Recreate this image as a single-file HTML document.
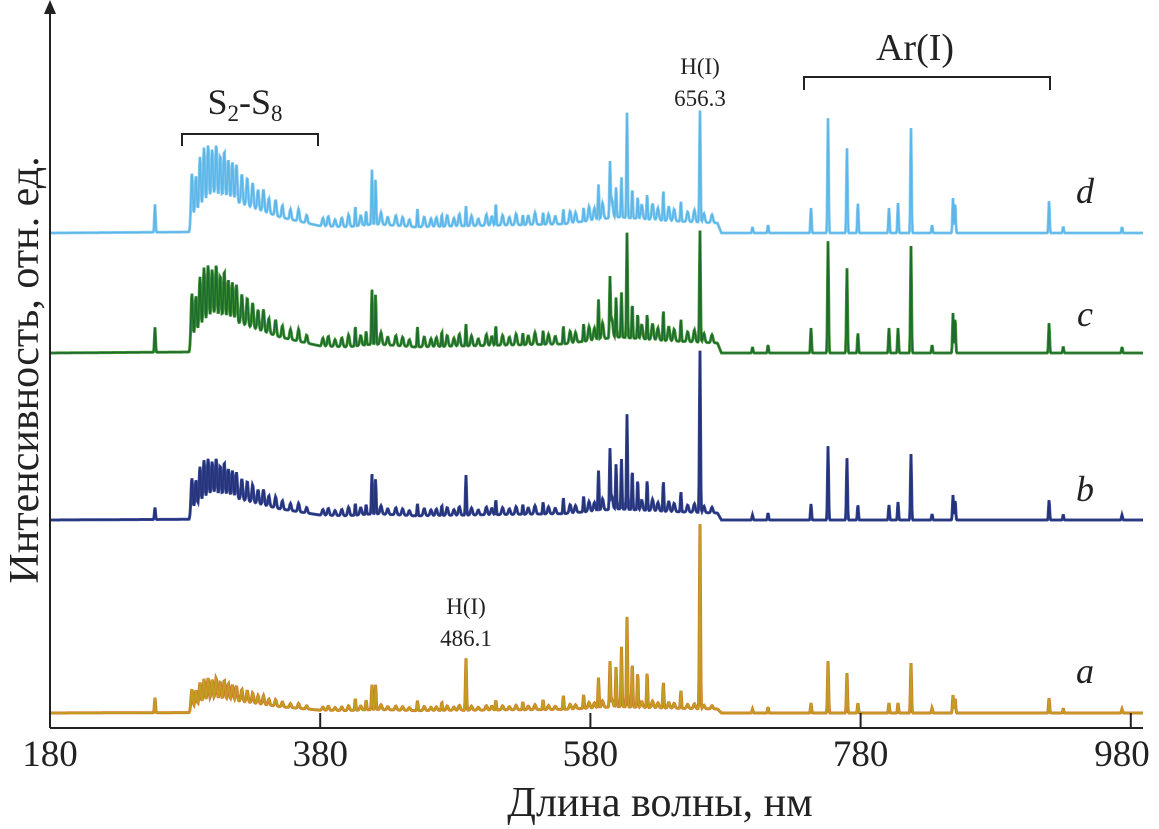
<!DOCTYPE html>
<html><head><meta charset="utf-8"><style>
html,body{margin:0;padding:0;background:#fff}
svg{display:block}
text{font-family:"Liberation Serif",serif;fill:#222}
</style></head><body>
<svg width="1159" height="829" viewBox="0 0 1159 829">
<g id="series"></g>
<g stroke="#222" stroke-width="2" fill="none">
<line x1="50" y1="728" x2="1143" y2="728"/>
<line x1="50" y1="728" x2="50" y2="10"/>
<polygon points="44,14 50,0 56,14" fill="#222" stroke="none"/>
</g>
<g id="ticks"></g>
<text x="660" y="816" font-size="42" text-anchor="middle">Длина волны, нм</text>
<text transform="translate(38,370) rotate(-90)" font-size="42" text-anchor="middle">Интенсивность, отн. ед.</text>
<g stroke="#222" stroke-width="2" fill="none">
<path d="M182,146 V134 H318 V146"/>
<path d="M804,90 V77 H1050 V90"/>
</g>
<text x="245" y="114" font-size="36" text-anchor="middle">S<tspan font-size="23" dy="7">2</tspan><tspan dy="-7">-S</tspan><tspan font-size="23" dy="7">8</tspan></text>
<text x="915" y="60" font-size="38" text-anchor="middle">Ar(I)</text>
<text x="700" y="74" font-size="23" text-anchor="middle">H(I)</text>
<text x="700" y="106" font-size="23" text-anchor="middle">656.3</text>
<text x="466" y="614" font-size="23" text-anchor="middle">H(I)</text>
<text x="466" y="646" font-size="23" text-anchor="middle">486.1</text>
<text x="1085" y="203" font-size="36" font-style="italic" text-anchor="middle">d</text>
<text x="1085" y="326" font-size="36" font-style="italic" text-anchor="middle">c</text>
<text x="1085" y="501" font-size="36" font-style="italic" text-anchor="middle">b</text>
<text x="1085" y="683" font-size="36" font-style="italic" text-anchor="middle">a</text>
</svg>
<script>
const tickValues=[180,380,580,780,980];
const seriesNames=['d','c','b','a'];
const seriesBaselines=[233,353,520,713];
const seriesScale=[1.0,1.0,0.7,0.4];
// continuum envelope (nm, level)
const contNm=[180,283,286,300,320,350,380,400,420,450,560,600,640,674,677,990];
const contLv=[0,1,14,34,30,16,7,6,9,6,9,16,12,10,0,0];
// S2 band lines
const bandNm=[285,288,291,294,297,300,303,306,309,312,315,318,322,326,330,334,338,342,347,352,358,364,370];
const bandLv=[50,40,55,60,58,50,55,45,50,42,40,38,30,28,25,20,22,15,16,12,10,12,8];
// atomic lines: wavelengths and heights per series (d,c,b,a)
const lineNm=[257.7,406,414,418.3,421,452,470,487.9,510,530,545,560,575,586,594.5,599,603,607.1,611,615,622,634,647,661.1,700,711.5,743.3,755.9,769.9,778,801,807.7,817.3,832.9,848.4,850,919.5,930,973.5];
const lineD=[28,20,14,55,45,18,12,20,22,10,12,15,14,35,55,30,40,105,30,22,25,30,20,112,6,8,25,115,85,30,25,30,105,8,35,30,32,6,6];
const lineC=[25,20,14,55,50,20,15,22,20,12,14,18,18,40,60,40,45,105,35,25,25,30,22,112,6,8,25,112,85,20,25,25,107,8,40,35,30,6,6];
const lineB=[12,12,10,40,35,12,10,40,15,10,12,16,16,40,60,45,50,95,40,30,30,30,20,162,5,7,16,74,62,15,15,18,66,6,25,20,20,5,5];
const lineA=[15,12,10,25,25,10,8,52,10,8,10,14,14,30,45,40,60,90,45,35,35,26,18,185,4,6,10,52,40,10,10,10,50,5,18,15,15,4,4];
// small ripple lines (shared, relative heights)
const rippleNm=[382,386,391,396,401,410,425,430,436,441,446,457,462,466,474,479,483,492,497,503,507,515,520,525,534,539,549,554,565,569,579,583,589,596,618,626,630,638,642,652,657,664,670];
const rippleLv=[8,10,7,9,12,10,12,8,10,9,7,10,8,9,11,8,12,10,7,11,9,10,8,11,9,12,10,8,12,10,14,12,16,18,14,16,12,14,12,10,12,9,8];
const lineSets=[lineD,lineC,lineB,lineA];
const colors=['#5db6e8','#1d6b2e','#253479','#c0a021'];
const edge=['#8fd0f2','#4a9a3a','#3c4a9a','#d0782a'];

const X=nm=>50+(nm-180)*1.351;
const gsum=(nm,arr,lv,s,w)=>{let v=0;for(let i=0;i<arr.length;i++){const d=(nm-arr[i])/w;if(Math.abs(d)<4)v+=lv[i]*s*Math.exp(-d*d);}return v;};
function cont(nm){for(let i=0;i<contNm.length-1;i++){if(nm>=contNm[i]&&nm<=contNm[i+1]){const t=(nm-contNm[i])/(contNm[i+1]-contNm[i]);return contLv[i]+t*(contLv[i+1]-contLv[i]);}}return 0;}
const NS='http://www.w3.org/2000/svg';
const g=document.getElementById('series');
seriesNames.forEach((n,k)=>{
  const s=seriesScale[k];let pts=[];
  for(let x=50;x<=1143;x+=0.5){
    const nm=180+(x-50)/1.351;
    let v=cont(nm)*s+gsum(nm,bandNm,bandLv,s,0.9)+gsum(nm,lineNm,lineSets[k],1,0.55)+gsum(nm,rippleNm,rippleLv,s,1.0);
    pts.push(x.toFixed(1)+','+(seriesBaselines[k]-v).toFixed(1));
  }
  const p1=document.createElementNS(NS,'polyline');
  p1.setAttribute('points',pts.join(' '));p1.setAttribute('fill','none');p1.setAttribute('stroke',edge[k]);p1.setAttribute('stroke-width','3');
  
  
  g.appendChild(p1);
  const p=document.createElementNS(NS,'polyline');
  p.setAttribute('points',pts.join(' '));p.setAttribute('fill','none');p.setAttribute('stroke',colors[k]);p.setAttribute('stroke-width','1.6');
  
  
  g.appendChild(p);
});
const tg=document.getElementById('ticks');
tickValues.forEach(v=>{
  const x=X(v);
  const l=document.createElementNS(NS,'line');
  l.setAttribute('x1',x);l.setAttribute('x2',x);l.setAttribute('y1',728);l.setAttribute('y2',713);l.setAttribute('stroke','#222');l.setAttribute('stroke-width','2');
  
  
  tg.appendChild(l);
  const t=document.createElementNS(NS,'text');
  t.setAttribute('x',Math.min(x,1122));t.setAttribute('y',766);t.setAttribute('font-size','37');t.setAttribute('text-anchor','middle');
  t.textContent=v;
  
  
  tg.appendChild(t);
});
</script>
</body></html>
